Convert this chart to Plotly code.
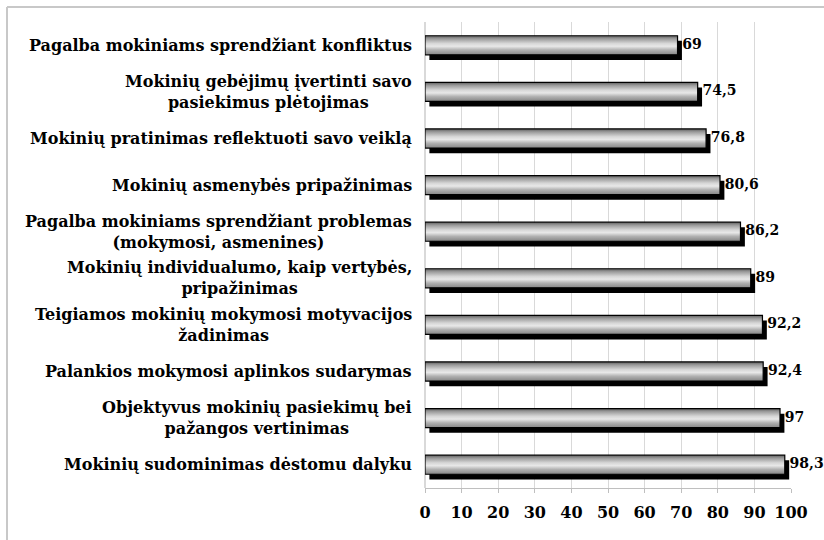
import plotly.graph_objects as go

categories = [
    "Pagalba mokiniams sprendžiant konfliktus",
    "Mokinių gebėjimų įvertinti savo<br>pasiekimus plėtojimas",
    "Mokinių pratinimas reflektuoti savo veiklą",
    "Mokinių asmenybės pripažinimas",
    "Pagalba mokiniams sprendžiant problemas<br>(mokymosi, asmenines)",
    "Mokinių individualumo, kaip vertybės,<br>pripažinimas",
    "Teigiamos mokinių mokymosi motyvacijos<br>žadinimas",
    "Palankios mokymosi aplinkos sudarymas",
    "Objektyvus mokinių pasiekimų bei<br>pažangos vertinimas",
    "Mokinių sudominimas dėstomu dalyku",
]
values = [69, 74.5, 76.8, 80.6, 86.2, 89, 92.2, 92.4, 97, 98.3]
x_ticks = [0, 10, 20, 30, 40, 50, 60, 70, 80, 90, 100]

W, H = 824, 540
ML, MR, MT, MB = 425, 33, 22, 52
PW, PH = W - ML - MR, H - MT - MB

FONT = "DejaVu Serif"
n = len(categories)
pos = [n - 1 - i for i in range(n)]  # top category at top
bw = 0.41
sh_dy = 0.11
sh_dx = 1.2

fig = go.Figure()

# shadows
fig.add_trace(go.Bar(
    y=pos, x=values, base=sh_dx, orientation="h",
    width=bw, offset=-bw / 2 - sh_dy,
    marker=dict(color="black", line=dict(width=0)),
    hoverinfo="skip", showlegend=False,
))

# gradient bars
cscale = [
    [0.0, "#858585"],
    [0.25, "#b0b0b0"],
    [0.45, "#e8e8e8"],
    [0.6, "#d6d6d6"],
    [0.85, "#999999"],
    [1.0, "#5e5e5e"],
]
for p, v in zip(pos, values):
    y0, y1 = p - bw / 2, p + bw / 2
    fig.add_trace(go.Scatter(
        x=[0, v, v, 0, 0], y=[y0, y0, y1, y1, y0],
        mode="lines", fill="toself",
        fillgradient=dict(type="vertical", colorscale=cscale),
        line=dict(color="black", width=1.2),
        hoverinfo="skip", showlegend=False,
    ))

# value labels
fig.add_trace(go.Scatter(
    x=[v + sh_dx + 0.1 for v in values], y=pos,
    mode="text", text=[str(v).replace(".", ",") for v in values],
    textposition="middle right",
    textfont=dict(family=FONT, size=14, color="black", weight="bold"),
    hoverinfo="skip", showlegend=False, cliponaxis=False,
))

# category labels
for p, c in zip(pos, categories):
    fig.add_annotation(
        x=-11 / PW, xref="paper", y=p, yref="y",
        text=c, showarrow=False, xanchor="right", yanchor="middle",
        align="center",
        font=dict(family=FONT, size=16, color="black", weight="bold"),
    )

# outer border (top and left)
def px_x(px):
    return (px - ML) / PW

def px_y(py):
    return (H - MB - py) / PH

fig.add_shape(type="line", xref="paper", yref="paper",
              x0=px_x(7), x1=px_x(W + 5), y0=px_y(7), y1=px_y(7),
              line=dict(color="#c8c8c8", width=2))
fig.add_shape(type="line", xref="paper", yref="paper",
              x0=px_x(7), x1=px_x(7), y0=px_y(7), y1=px_y(H + 5),
              line=dict(color="#c8c8c8", width=2))

fig.update_layout(
    width=W, height=H,
    margin=dict(l=ML, r=MR, t=MT, b=MB),
    paper_bgcolor="white", plot_bgcolor="white",
    barmode="overlay",
    showlegend=False,
    xaxis=dict(
        range=[0, 100], tickvals=x_ticks, ticktext=[str(t) for t in x_ticks],
        showgrid=True, gridcolor="#d9d9d9", gridwidth=1,
        zeroline=True, zerolinecolor="#d9d9d9",
        showline=True, linecolor="#bfbfbf", linewidth=1,
        ticks="outside", ticklen=4, tickcolor="#bfbfbf",
        ticklabelstandoff=6,
        tickfont=dict(family=FONT, size=16, color="black", weight="bold"),
        fixedrange=True, automargin=False,
    ),
    yaxis=dict(
        range=[-0.5, n - 0.5], showticklabels=False, showgrid=False,
        zeroline=False, showline=False, ticks="", fixedrange=True,
        automargin=False,
    ),
)

fig.write_html(
    "out.html",
    config={"displayModeBar": False},
    post_script="document.body.style.margin='0';document.body.style.overflow='hidden';",
)
